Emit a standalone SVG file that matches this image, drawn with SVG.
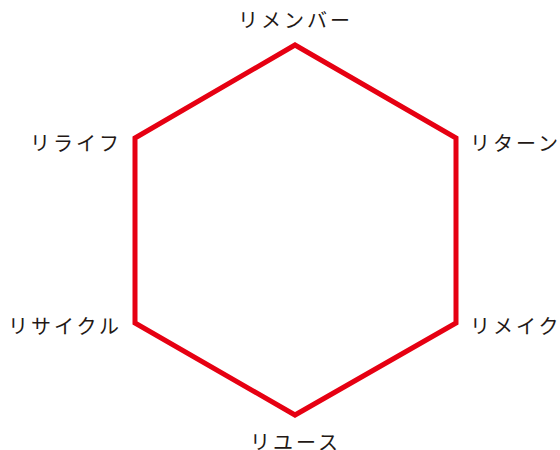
<svg xmlns="http://www.w3.org/2000/svg" width="560" height="450" viewBox="0 0 560 450">
<style>
.lbl{font-family:"Noto Sans CJK JP","Noto Sans",sans-serif;font-size:20px;fill:#231815;letter-spacing:3px}
.edge{fill:none;stroke:#e60012;stroke-width:5;stroke-linejoin:miter}
</style>
<rect width="560" height="450" fill="#ffffff"/>
<g id="connectors">
<polygon class="edge" points="295,45 456,138 456,323 295,415 135,323 135,138"/>
</g>
<g id="n-remember"><text class="lbl" x="238" y="28">リメンバー</text></g>
<g id="n-return"><text class="lbl" x="470" y="151">リターン</text></g>
<g id="n-remake"><text class="lbl" x="470" y="334">リメイク</text></g>
<g id="n-reuse"><text class="lbl" x="250" y="450">リユース</text></g>
<g id="n-recycle"><text class="lbl" x="8" y="334">リサイクル</text></g>
<g id="n-relife"><text class="lbl" x="30" y="151">リライフ</text></g>
</svg>
